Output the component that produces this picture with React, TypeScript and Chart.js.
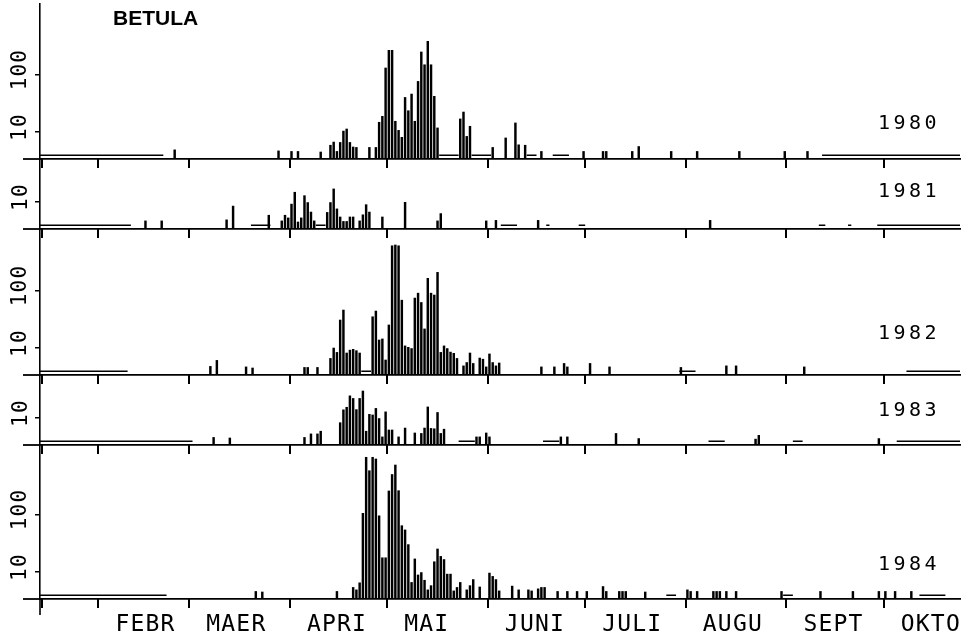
import React, { useEffect, useRef } from 'react';
import { Chart, registerables } from 'chart.js';

Chart.register(...registerables);

// ---------- data ----------
const years = ['1980', '1981', '1982', '1983', '1984'];
const taxon = 'BETULA';

// day-of-year where each month starts (Jan 1 = 0) and the month names
const monthStartDays = [31, 59, 90, 120, 151, 181, 212, 243, 273];
const monthLabels = ['FEBR', 'MAER', 'APRI', 'MAI', 'JUNI', 'JULI', 'AUGU', 'SEPT', 'OKTO'];
const axisStartDay = 13.6;
const firstDay = 13;
const lastDay = 296.5;

// daily counts: [day of year (Jan 1 = 1), count]
const bars1980 = [
  [55, 4.9], [87, 4.7], [91, 4.6], [93, 4.6], [100, 4.5], [103, 5.9], [104, 6.7], [105, 4.6], [106, 6.6],
  [107, 10.4], [108, 11.3], [109, 6.6], [110, 5.5], [111, 5.4], [115, 5.4], [117, 5.4], [118, 14.8],
  [119, 18.8], [120, 130], [121, 264], [122, 264], [123, 15.4], [124, 10.7], [125, 8.1], [126, 40],
  [127, 23.5], [128, 45.8], [129, 15.4], [130, 76], [131, 247], [132, 148], [133, 378], [134, 148],
  [135, 41.8], [136, 11.8], [143, 16.9], [144, 22.3], [145, 8.4], [146, 12.6], [153, 5.4], [157, 7.9],
  [160, 14.4], [161, 6.0], [163, 5.9], [168, 4.6], [181, 4.6], [187, 4.6], [188, 4.6], [196, 4.6],
  [198, 5.6], [208, 4.6], [216, 4.6], [229, 4.6], [243, 4.6], [250, 4.6],
];
const bars1981 = [
  [46, 4.7], [51, 4.7], [71, 4.9], [73, 8.5], [84, 5.9], [88, 4.7], [89, 5.9], [90, 5.3], [91, 9.2],
  [92, 14.8], [93, 4.5], [94, 5.3], [95, 12.9], [96, 9.8], [97, 6.7], [98, 4.7], [102, 6.6], [103, 9.8],
  [104, 16.9], [105, 7.6], [106, 5.5], [107, 4.6], [108, 4.6], [109, 5.5], [110, 5.5], [112, 4.7],
  [113, 6.0], [114, 9.0], [115, 6.7], [119, 5.5], [126, 9.9], [136, 4.7], [137, 6.3], [151, 4.7],
  [154, 4.8], [167, 4.8], [220, 4.8],
];
const bars1982 = [
  [66, 4.8], [68, 6.1], [77, 4.7], [79, 4.5], [95, 4.6], [96, 4.6], [99, 4.6], [103, 6.6], [104, 10],
  [105, 8.4], [106, 30.7], [107, 45.8], [108, 8.2], [109, 9.2], [110, 9.5], [111, 9.0], [112, 8.2],
  [116, 35], [117, 44], [118, 13.8], [119, 14.4], [120, 6.2], [121, 25.2], [122, 600], [123, 619],
  [124, 600], [125, 68], [126, 10.9], [127, 10.3], [128, 9.8], [129, 74], [130, 90], [131, 62],
  [132, 21.5], [133, 163], [134, 90], [135, 83.5], [136, 207], [137, 8.4], [138, 10.9], [139, 9.8],
  [140, 8.5], [141, 8.1], [142, 6.6], [144, 4.9], [145, 5.6], [146, 8.2], [147, 5.4], [149, 6.7],
  [150, 6.4], [151, 4.7], [152, 7.9], [153, 5.6], [154, 4.9], [155, 5.5], [168, 4.7], [172, 4.7],
  [175, 5.4], [176, 4.7], [183, 5.4], [189, 4.7], [211, 4.6], [225, 4.9], [228, 4.9], [249, 4.7],
];
const bars1983 = [
  [67, 4.6], [72, 4.5], [95, 4.6], [97, 5.3], [99, 5.3], [100, 5.9], [106, 8.3], [107, 13.9],
  [108, 15.4], [109, 24.3], [110, 21.9], [111, 14], [112, 21.9], [113, 29.5], [114, 5.9], [115, 11.6],
  [116, 11.3], [117, 14.7], [118, 9.8], [119, 4.7], [120, 12.8], [121, 6.2], [122, 6.2], [124, 4.7],
  [126, 6.7], [129, 5.5], [131, 5.4], [132, 6.7], [133, 15.6], [134, 6.6], [135, 6.5], [136, 12.5],
  [137, 5.4], [138, 6.4], [148, 4.7], [149, 4.7], [151, 5.5], [152, 4.7], [174, 4.7], [176, 4.7],
  [191, 5.4], [198, 4.4], [234, 4.3], [235, 5.0], [272, 4.4],
];
const bars1984 = [
  [80, 4.6], [82, 4.5], [105, 4.6], [110, 5.4], [111, 4.9], [112, 6.5], [113, 105], [114, 990],
  [115, 578], [116, 990], [117, 925], [118, 95], [119, 17.7], [120, 17.7], [121, 257], [122, 497],
  [123, 727], [124, 260], [125, 64], [126, 54], [127, 30], [128, 6.6], [129, 16.9], [130, 8.9],
  [131, 9.8], [132, 7.2], [133, 4.9], [134, 5.8], [135, 15.1], [136, 25.2], [137, 18.7], [138, 16.5],
  [139, 9.2], [140, 9.2], [141, 4.7], [142, 5.4], [143, 6.6], [145, 4.9], [146, 5.8], [147, 7.4],
  [149, 5.5], [152, 9.6], [153, 8.4], [154, 7.4], [155, 4.7], [159, 5.7], [161, 4.9], [164, 4.9],
  [165, 4.7], [167, 5.1], [168, 5.4], [169, 5.4], [173, 4.6], [176, 4.6], [179, 4.6], [182, 4.6],
  [187, 5.6], [188, 4.6], [192, 4.6], [193, 4.6], [194, 4.6], [200, 4.5], [213, 4.9], [214, 4.6],
  [216, 4.6], [221, 4.6], [222, 4.6], [223, 4.6], [225, 4.6], [228, 4.6], [242, 4.6], [254, 4.6],
  [264, 4.6], [272, 4.6], [274, 4.6], [277, 4.6], [282, 4.6],
];

// runs of days drawn as a flat low line (no sample / trace level): [first day, last day]
const runs1980 = [[14, 51], [137, 142], [147, 152], [164, 166], [172, 176], [255, 297]];
const runs1981 = [[14, 41], [79, 84], [99, 101], [156, 160], [170, 170], [180, 181], [254, 255], [263, 263], [272, 297]];
const runs1982 = [[14, 40], [113, 115], [211, 215], [281, 297]];
const runs1983 = [[14, 60], [143, 147], [169, 173], [220, 224], [246, 248], [278, 297]];
const runs1984 = [[14, 52], [207, 209], [243, 245], [285, 292]];
const runLevel = 3.95;

// logarithmic value axes
const yMin = 3.4;
const yMaxByYear = [1687, 56, 1175, 56, 1619];
const yTicksByYear = [[10, 100], [10], [10, 100], [10], [10, 100]];

const barsByYear = [bars1980, bars1981, bars1982, bars1983, bars1984];
const runsByYear = [runs1980, runs1981, runs1982, runs1983, runs1984];

// ---------- layout (page pixels) ----------
const W = 974;
const H = 638;
const plotLeft = 40;
const plotRight = 960;
const panelTop = [4, 159, 229, 375, 445];
const panelBottom = [159, 229, 375, 445, 599];
const yearRise = [35, 37.5, 41, 34, 34];

const FONT = '"DejaVu Sans Mono", monospace';

const panelPlugin = {
  id: 'panelText',
  beforeDraw(chart: any) {
    (chart.ctx as any).letterSpacing = '1.2px';
  },
  afterDraw(chart: any, _args: any, opts: any) {
    const { ctx, chartArea } = chart;
    const xs = chart.scales.x;
    ctx.save();
    ctx.strokeStyle = '#000';
    ctx.setLineDash([]);
    ctx.globalAlpha = 1;
    // month tick marks below the base line, at the x scale's ticks
    ctx.lineWidth = 2;
    for (const t of xs.ticks) {
      const px = Math.round(xs.getPixelForValue(t.value));
      ctx.beginPath();
      ctx.moveTo(px, chartArea.bottom - 1);
      ctx.lineTo(px, chartArea.bottom + 9);
      ctx.stroke();
    }
    // base line continues a little left of the value axis
    ctx.lineWidth = 1.8;
    ctx.beginPath();
    ctx.moveTo(23, chartArea.bottom);
    ctx.lineTo(chartArea.left, chartArea.bottom);
    ctx.stroke();
    if (opts.axisTail) {
      ctx.lineWidth = 1.6;
      ctx.beginPath();
      ctx.moveTo(chartArea.left, chartArea.bottom);
      ctx.lineTo(chartArea.left, chartArea.bottom + opts.axisTail);
      ctx.stroke();
    }
    ctx.fillStyle = '#000';
    (ctx as any).letterSpacing = '3.5px';
    ctx.font = '20px ' + FONT;
    ctx.textAlign = 'left';
    ctx.textBaseline = 'middle';
    ctx.fillText(opts.year, 878, chartArea.bottom - opts.rise);
    if (opts.title) {
      (ctx as any).letterSpacing = '0px';
      ctx.font = 'bold 21px "Liberation Sans", Arial, sans-serif';
      ctx.textBaseline = 'alphabetic';
      ctx.fillText(opts.title, 113, 25);
    }
    ctx.restore();
  },
};

function makeConfig(i: number): any {
  const bars = barsByYear[i];
  const runs = runsByYear[i];
  const runPts: any[] = [];
  runs.forEach(([a, b]) => {
    runPts.push({ x: a - 1, y: runLevel }, { x: b, y: runLevel }, { x: b, y: null });
  });
  const isLast = i === years.length - 1;
  const top = panelTop[i];
  const bottom = panelBottom[i];
  const hasHundred = yTicksByYear[i].length > 1;
  return {
    type: 'bar',
    data: {
      datasets: [
        {
          type: 'bar',
          label: years[i],
          data: bars.map(([d, v]) => ({ x: d - 0.5, y: v })),
          backgroundColor: '#000',
          borderWidth: 0,
          barThickness: 1.8,
          order: 1,
        },
        {
          type: 'line',
          label: years[i] + ' low',
          data: runPts,
          borderColor: '#000',
          borderWidth: 1.4,
          pointRadius: 0,
          spanGaps: false,
          fill: false,
          tension: 0,
          order: 0,
        },
      ],
    },
    options: {
      animation: false,
      responsive: false,
      devicePixelRatio: 1,
      layout: { padding: { top, left: 0, right: W - plotRight, bottom: 0 } },
      plugins: {
        legend: { display: false },
        tooltip: { enabled: false },
        title: { display: false },
        panelText: { year: years[i], rise: yearRise[i], axisTail: isLast ? 16 : 0, title: i === 0 ? taxon : '' },
      },
      scales: {
        x: {
          type: 'linear',
          min: firstDay,
          max: lastDay,
          bounds: 'data',
          offset: false,
          afterBuildTicks: (s: any) => {
            s.ticks = [axisStartDay, ...monthStartDays].map((v) => ({ value: v }));
          },
          afterFit: (s: any) => {
            s.height = H - bottom;
            s.paddingLeft = 0;
            s.paddingRight = 0;
          },
          grid: { display: true, offset: false, drawOnChartArea: false, drawTicks: true, tickLength: 9, color: '#000', lineWidth: 2 },
          border: { display: true, color: '#000', width: 1.8 },
          ticks: {
            display: isLast,
            autoSkip: false,
            minRotation: 0,
            maxRotation: 0,
            align: 'start',
            labelOffset: 17,
            padding: 3,
            color: '#000',
            font: { family: FONT, size: 23 },
            callback: (_v: any, idx: number) => (idx === 0 ? '' : monthLabels[idx - 1]),
          },
        },
        y: {
          type: 'logarithmic',
          min: yMin,
          max: yMaxByYear[i],
          bounds: 'data',
          beginAtZero: false,
          afterBuildTicks: (s: any) => {
            s.ticks = yTicksByYear[i].map((v) => ({ value: v }));
          },
          afterFit: (s: any) => {
            s.width = plotLeft;
            s.paddingTop = 0;
            s.paddingBottom = 0;
          },
          grid: { display: true, drawOnChartArea: false, drawTicks: true, tickLength: 5, color: '#000', lineWidth: 1.5 },
          border: { display: true, color: '#000', width: 1.6 },
          ticks: {
            display: true,
            minRotation: 90,
            maxRotation: 90,
            crossAlign: 'center',
            padding: hasHundred ? -5 : 1,
            labelOffset: -5,
            color: '#000',
            font: { family: FONT, size: 21 },
            callback: (v: any) => String(v),
          },
        },
      },
    },
    plugins: [panelPlugin],
  };
}

export default function App() {
  const refs = useRef<(HTMLCanvasElement | null)[]>([]);
  useEffect(() => {
    const charts = years.map((_, i) => new Chart(refs.current[i] as HTMLCanvasElement, makeConfig(i)));
    return () => charts.forEach((c) => c.destroy());
  }, []);
  return (
    <div style={{ position: 'absolute', left: 0, top: 0, width: W, height: H, background: '#fff', overflow: 'hidden' }}>
      {years.map((y, i) => (
        <canvas
          key={y}
          ref={(el) => {
            refs.current[i] = el;
          }}
          width={W}
          height={H}
          style={{ position: 'absolute', left: 0, top: 0, width: W, height: H }}
        />
      ))}
    </div>
  );
}
